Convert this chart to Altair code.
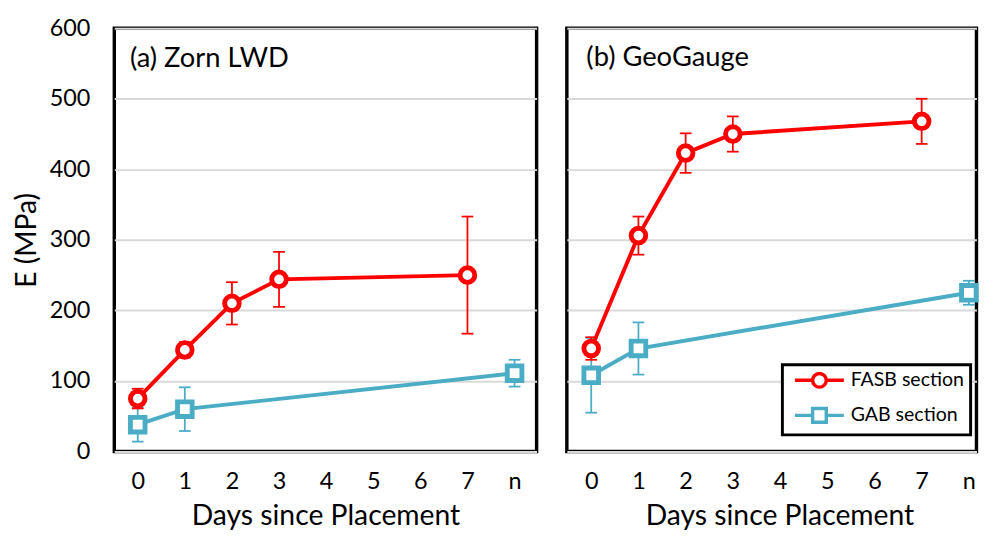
import altair as alt
import pandas as pd

categories = ["0", "1", "2", "3", "4", "5", "6", "7", "n"]
series_names = ["FASB section", "GAB section"]
series_colors = ["#FF0000", "#4BACC6"]
y_ticks = [0, 100, 200, 300, 400, 500, 600]
panel_labels = ["(a) Zorn LWD", "(b) GeoGauge"]

# (a) Zorn LWD
a_fasb_days = ["0", "1", "2", "3", "7"]
a_fasb_E = [75, 144, 210, 244, 250]
a_fasb_err = [14, 11, 30, 39, 83]
a_gab_days = ["0", "1", "n"]
a_gab_E = [38, 60, 111]
a_gab_err = [24, 31, 19]

# (b) GeoGauge
b_fasb_days = ["0", "1", "2", "3", "7"]
b_fasb_E = [146, 306, 423, 450, 468]
b_fasb_err = [16, 27, 28, 25, 32]
b_gab_days = ["0", "1", "n"]
b_gab_E = [108, 146, 225]
b_gab_err = [53, 37, 17]

FONT = "Lato"
H = 434

# legend symbols: line + marker as custom paths
circle_path = ("M-3.125,0H-0.875M0.875,0H3.125"
               "M0.875,0A0.875,0.875,0,1,1,-0.875,0A0.875,0.875,0,1,1,0.875,0Z")
square_path = ("M-3.125,0H-0.875M0.875,0H3.125"
               "M-0.875,-0.875H0.875V0.875H-0.875Z")


def frame(days, E, err, name):
    df = pd.DataFrame({"day": days, "E": E, "err": err})
    df["series"] = name
    df["lo"] = df["E"] - df["err"]
    df["hi"] = df["E"] + df["err"]
    df["idx"] = [categories.index(d) for d in days]
    return df


def panel(fasb, gab, label, width, pad, align, show_y, legend, title_x, lab_x, lab_y):
    xaxis = alt.Axis(title="Days since Placement", labelAngle=0, ticks=False, domain=False,
                     grid=False, labelPadding=19, titlePadding=9, titleX=title_x)
    X = alt.X("day:O", sort=categories,
              scale=alt.Scale(type="point", domain=categories, padding=pad, align=align),
              axis=xaxis)
    if show_y:
        yaxis = alt.Axis(title="E (MPa)", values=y_ticks, ticks=False, domain=False, grid=True,
                         gridColor="#D9D9D9", gridWidth=2, labelPadding=25, titlePadding=8)
    else:
        yaxis = alt.Axis(title=None, values=y_ticks, labels=False, ticks=False, domain=False,
                         grid=True, gridColor="#D9D9D9", gridWidth=2)
    yscale = alt.Scale(domain=[0, 600], nice=False)

    def Y(field):
        return alt.Y(f"{field}:Q", scale=yscale, axis=yaxis)

    layers = []
    for df, shape, col in [(gab, "square", series_colors[1]), (fasb, "circle", series_colors[0])]:
        base = alt.Chart(df)
        layers.append(base.mark_line(color=col, strokeWidth=4).encode(x=X, y=Y("E"), order="idx:Q"))
        layers.append(base.mark_rule(color=col, strokeWidth=1.8).encode(x=X, y=Y("lo"), y2="hi:Q"))
        layers.append(base.mark_tick(color=col, orient="horizontal", size=12, thickness=1.8, opacity=1)
                      .encode(x=X, y=Y("lo")))
        layers.append(base.mark_tick(color=col, orient="horizontal", size=12, thickness=1.8, opacity=1)
                      .encode(x=X, y=Y("hi")))
        layers.append(base.mark_point(shape=shape, filled=False, fill="white", stroke=col, size=225,
                                      strokeWidth=5, opacity=1)
                      .encode(x=X, y=Y("E")))
    if legend:
        both = pd.concat([fasb, gab])
        leg = alt.Legend(title=None, orient="none", legendX=685, legendY=H - 89,
                         labelFont=FONT, labelFontSize=20, labelColor="black",
                         symbolSize=256, symbolStrokeWidth=3.5, symbolOffset=22,
                         symbolOpacity=1, symbolFillColor="white",
                         labelOffset=22, padding=6, rowPadding=8,
                         strokeColor="black", fillColor="white")
        cscale = alt.Scale(domain=series_names, range=series_colors)
        layers.append(
            alt.Chart(both)
            .mark_point(filled=False, fill="white", size=256, strokeWidth=3.5, opacity=0)
            .encode(
                x=X, y=Y("E"),
                color=alt.Color("series:N", scale=cscale, legend=leg),
                shape=alt.Shape("series:N", scale=alt.Scale(domain=series_names,
                                                            range=[circle_path, square_path]),
                                legend=leg),
            )
        )
    text = alt.Chart(pd.DataFrame({"label": [label]})).mark_text(
        align="left", baseline="alphabetic", font=FONT, fontSize=28, color="black"
    ).encode(x=alt.value(lab_x), y=alt.value(lab_y), text="label:N")
    layers.append(text)
    return alt.layer(*layers).properties(width=width, height=H)


a_f = frame(a_fasb_days, a_fasb_E, a_fasb_err, series_names[0])
a_g = frame(a_gab_days, a_gab_E, a_gab_err, series_names[1])
b_f = frame(b_fasb_days, b_fasb_E, b_fasb_err, series_names[0])
b_g = frame(b_gab_days, b_gab_E, b_gab_err, series_names[1])

left = panel(a_f, a_g, panel_labels[0], 433, 0.4824, 0.515, True, False, 216.5, 16, 40)
right = panel(b_f, b_g, panel_labels[1], 420, 0.339, 0.762, False, True, 218, 20, 39)

chart = (
    alt.hconcat(left, right, spacing=27)
    .properties(padding={"left": 3, "top": 0, "right": 0, "bottom": 0}, background="white")
    .configure_view(stroke="black", strokeWidth=3.5)
    .configure_axis(labelFont=FONT, titleFont=FONT, labelFontSize=24, titleFontSize=29,
                    labelColor="black", titleColor="black", titleFontWeight="normal")
    .configure_legend(strokeWidth=3)
)

chart.save("out.html", embed_options={"renderer": "svg", "actions": False})
